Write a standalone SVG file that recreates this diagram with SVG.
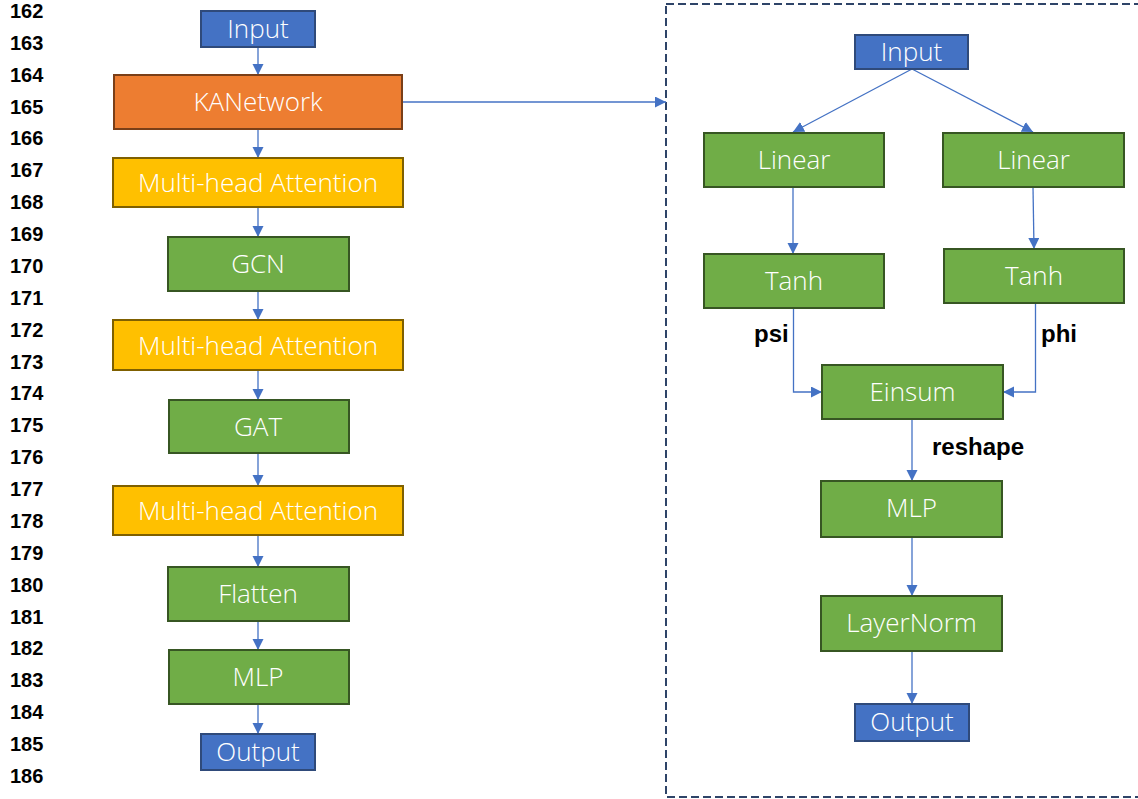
<svg xmlns="http://www.w3.org/2000/svg" width="1138" height="799" viewBox="0 0 1138 799">
<defs>
<marker id="ah" markerUnits="userSpaceOnUse" markerWidth="12" markerHeight="12" refX="11" refY="5.5" orient="auto">
<path d="M0,0 L11,5.5 L0,11 z" fill="#4472C4"/>
</marker>
<style>
.ln{font-family:"Liberation Sans",Arial,sans-serif;font-weight:bold;font-size:20px;fill:#000}
.nt{font-family:"Open Sans","Liberation Sans",sans-serif;font-weight:300;font-size:26px;fill:#fff;text-anchor:middle}
.lb{font-family:"Liberation Sans",Arial,sans-serif;font-weight:bold;font-size:24px;fill:#000}
.blue{fill:#4472C4;stroke:#2F4A7A;stroke-width:2}
.orange{fill:#ED7D31;stroke:#7A3F18;stroke-width:2}
.yellow{fill:#FFC000;stroke:#7F6000;stroke-width:2}
.green{fill:#70AD47;stroke:#375623;stroke-width:2}
.c{fill:none;stroke:#4472C4;stroke-width:1.3;marker-end:url(#ah)}
</style>
</defs>
<rect width="1138" height="799" fill="#fff"/>
<g id="line-numbers">
<text class="ln" x="10" y="18">162</text>
<text class="ln" x="10" y="50">163</text>
<text class="ln" x="10" y="82">164</text>
<text class="ln" x="10" y="114">165</text>
<text class="ln" x="10" y="145">166</text>
<text class="ln" x="10" y="177">167</text>
<text class="ln" x="10" y="209">168</text>
<text class="ln" x="10" y="241">169</text>
<text class="ln" x="10" y="273">170</text>
<text class="ln" x="10" y="305">171</text>
<text class="ln" x="10" y="337">172</text>
<text class="ln" x="10" y="369">173</text>
<text class="ln" x="10" y="400">174</text>
<text class="ln" x="10" y="432">175</text>
<text class="ln" x="10" y="464">176</text>
<text class="ln" x="10" y="496">177</text>
<text class="ln" x="10" y="528">178</text>
<text class="ln" x="10" y="560">179</text>
<text class="ln" x="10" y="592">180</text>
<text class="ln" x="10" y="624">181</text>
<text class="ln" x="10" y="655">182</text>
<text class="ln" x="10" y="687">183</text>
<text class="ln" x="10" y="719">184</text>
<text class="ln" x="10" y="751">185</text>
<text class="ln" x="10" y="783">186</text>
</g>
<g id="detail-frame">
<rect x="666" y="4" width="490" height="793" fill="none" stroke="#2E4468" stroke-width="2" stroke-dasharray="8,4"/>
</g>
<g id="connectors">
<line class="c" x1="258" y1="47" x2="258" y2="75"/>
<line class="c" x1="258" y1="129" x2="258" y2="158"/>
<line class="c" x1="258" y1="207" x2="258" y2="237"/>
<line class="c" x1="258" y1="291" x2="258" y2="320"/>
<line class="c" x1="258" y1="370" x2="258" y2="400"/>
<line class="c" x1="258" y1="453" x2="258" y2="486"/>
<line class="c" x1="258" y1="535" x2="258" y2="567"/>
<line class="c" x1="258" y1="621" x2="258" y2="650"/>
<line class="c" x1="258" y1="704" x2="258" y2="734"/>
<line class="c" x1="402" y1="102" x2="666" y2="102"/>
<line class="c" x1="912" y1="69" x2="793" y2="132"/>
<line class="c" x1="912" y1="69" x2="1033" y2="132"/>
<line class="c" x1="793" y1="187" x2="793" y2="254"/>
<line class="c" x1="1033" y1="187" x2="1034" y2="249"/>
<polyline class="c" points="793.5,308 793.5,392 822,392"/>
<polyline class="c" points="1035.5,303 1035.5,392 1003,392"/>
<line class="c" x1="912" y1="419" x2="912" y2="481"/>
<line class="c" x1="912" y1="537" x2="912" y2="596"/>
<line class="c" x1="912" y1="651" x2="912" y2="704"/>
</g>
<g id="edge-labels">
<text class="lb" x="754" y="342">psi</text>
<text class="lb" x="1041" y="342">phi</text>
<text class="lb" x="932" y="455">reshape</text>
</g>
<g id="n-input"><rect class="blue" x="201" y="11" width="114" height="36"/><text class="nt" x="258" y="38">Input</text></g>
<g id="n-kan"><rect class="orange" x="114" y="75" width="288" height="54"/><text class="nt" x="258" y="111">KANetwork</text></g>
<g id="n-mha1"><rect class="yellow" x="113" y="158" width="290" height="49"/><text class="nt" x="258" y="192">Multi-head Attention</text></g>
<g id="n-gcn"><rect class="green" x="168" y="237" width="181" height="54"/><text class="nt" x="258" y="273">GCN</text></g>
<g id="n-mha2"><rect class="yellow" x="113" y="320" width="290" height="50"/><text class="nt" x="258" y="355">Multi-head Attention</text></g>
<g id="n-gat"><rect class="green" x="169" y="400" width="180" height="53"/><text class="nt" x="258" y="436">GAT</text></g>
<g id="n-mha3"><rect class="yellow" x="113" y="486" width="290" height="49"/><text class="nt" x="258" y="520">Multi-head Attention</text></g>
<g id="n-flatten"><rect class="green" x="168" y="567" width="181" height="54"/><text class="nt" x="258" y="603">Flatten</text></g>
<g id="n-mlp"><rect class="green" x="169" y="650" width="180" height="54"/><text class="nt" x="258" y="686">MLP</text></g>
<g id="n-output"><rect class="blue" x="201" y="734" width="114" height="36"/><text class="nt" x="258" y="761">Output</text></g>
<g id="k-input"><rect class="blue" x="855" y="35" width="113" height="34"/><text class="nt" x="911.5" y="61">Input</text></g>
<g id="k-linear1"><rect class="green" x="704" y="133" width="180" height="54"/><text class="nt" x="794" y="169">Linear</text></g>
<g id="k-linear2"><rect class="green" x="943" y="133" width="181" height="54"/><text class="nt" x="1033.5" y="169">Linear</text></g>
<g id="k-tanh1"><rect class="green" x="704" y="254" width="180" height="54"/><text class="nt" x="794" y="290">Tanh</text></g>
<g id="k-tanh2"><rect class="green" x="944" y="249" width="180" height="54"/><text class="nt" x="1034" y="285">Tanh</text></g>
<g id="k-einsum"><rect class="green" x="822" y="365" width="181" height="54"/><text class="nt" x="912.5" y="401">Einsum</text></g>
<g id="k-mlp"><rect class="green" x="821" y="481" width="181" height="56"/><text class="nt" x="911.5" y="517">MLP</text></g>
<g id="k-layernorm"><rect class="green" x="821" y="596" width="181" height="55"/><text class="nt" x="911.5" y="632">LayerNorm</text></g>
<g id="k-output"><rect class="blue" x="855" y="704" width="114" height="37"/><text class="nt" x="912" y="731">Output</text></g>
</svg>
